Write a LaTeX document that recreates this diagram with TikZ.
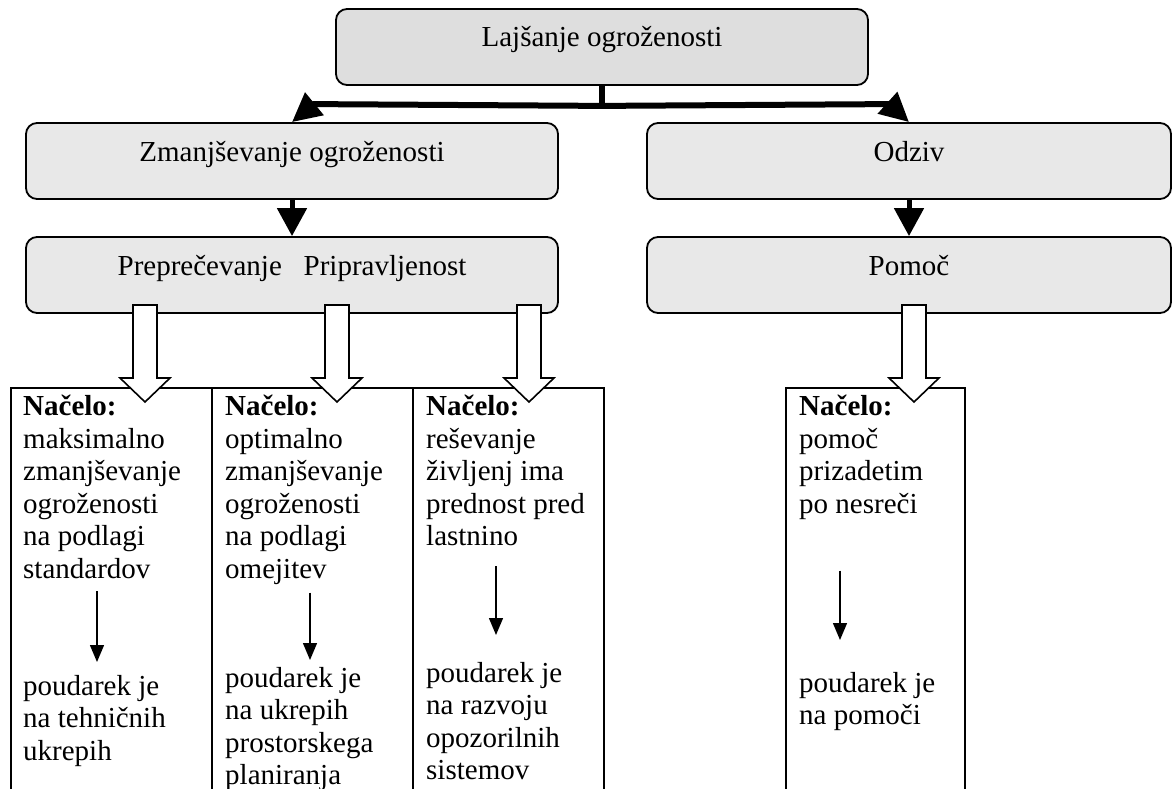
\documentclass[tikz,border=0pt]{standalone}
\usepackage{fontspec}
\setmainfont{Liberation Serif}
\usetikzlibrary{arrows.meta}
\definecolor{topgray}{HTML}{DEDEDE}
\definecolor{boxgray}{HTML}{E8E8E8}
\tikzset{
  box/.style={draw, line width=1.8pt, rounded corners=11pt, fill=boxgray,
    minimum width=532pt, minimum height=76pt, inner sep=0pt,
    text height=0pt, text depth=0pt},
  col/.style={draw, line width=1.8pt, anchor=north west,
    minimum height=430pt, inner sep=0pt},
  txt/.style={anchor=north west, align=flush left, text width=185pt, inner sep=0pt},
  bar/.style={line width=6pt},
  fat/.style={line width=6pt, -{Triangle[length=29pt,width=28pt]}},
  mid/.style={line width=5pt, -{Triangle[length=28pt,width=29pt]}},
  thin/.style={line width=1.4pt, -{Triangle[length=17pt,width=14pt]}},
  hollow/.style={draw, line width=1.6pt, fill=white}
}
\begin{document}
\begin{tikzpicture}[x=1pt, y=-1pt, font=\fontsize{29}{32.5}\selectfont]
\useasboundingbox (0,0) rectangle (1173,789);
\clip (0,0) rectangle (1173,789);

% upper boxes
\node[box, fill=topgray] (lajs) at (602,47) {Lajšanje ogroženosti};
\node[box] (zman) at (292,161) {Zmanjševanje ogroženosti};
\node[box, minimum width=524pt] (odziv) at (909,161) {Odziv};
\node[box] (prep) at (292,275) {Preprečevanje~~~Pripravljenost};
\node[box, minimum width=524pt] (pomoc) at (909,275) {Pomoč};

\draw[bar] (lajs.south) -- ++(0,20) coordinate (fork);
\draw[fat] (fork) -- ([xshift=22pt,yshift=18pt]zman.north) -- (zman.north);
\draw[fat] (fork) -- ([xshift=-20pt,yshift=18pt]odziv.north) -- (odziv.north);
\draw[mid] (zman.south) -- (prep.north);
\draw[mid] (odziv.south) -- (pomoc.north);

% columns
\node[col, minimum width=201pt] (c1) at (10,387) {};
\node[col, minimum width=201pt] (c2) at (211,387) {};
\node[col, minimum width=191pt] (c3) at (412,387) {};
\node[col, minimum width=179pt] (c4) at (785,387) {};

\node[txt] (p1) at (23,395) {\textbf{Načelo:}\\maksimalno\\zmanjševanje\\ogroženosti\\na podlagi\\standardov};
\node[txt] (u1) at (23,675) {poudarek je\\na tehničnih\\ukrepih};
\node[txt] (p2) at (225,395) {\textbf{Načelo:}\\optimalno\\zmanjševanje\\ogroženosti\\na podlagi\\omejitev};
\node[txt] (u2) at (225,667) {poudarek je\\na ukrepih\\prostorskega\\planiranja};
\node[txt] (p3) at (426,395) {\textbf{Načelo:}\\reševanje\\življenj ima\\prednost pred\\lastnino};
\node[txt] (u3) at (426,662) {poudarek je\\na razvoju\\opozorilnih\\sistemov};
\node[txt] (p4) at (799,395) {\textbf{Načelo:}\\pomoč\\prizadetim\\po nesreči};
\node[txt] (u4) at (799,672) {poudarek je\\na pomoči};

\draw[thin, shorten <=12.5pt, shorten >=13pt] ([xshift=74pt]p1.south west) -- ([xshift=74pt]u1.north west);
\draw[thin, shorten <=8pt, shorten >=7pt] ([xshift=85pt]p2.south west) -- ([xshift=85pt]u2.north west);
\draw[thin, shorten <=20pt, shorten >=27pt] ([xshift=70pt]p3.south west) -- ([xshift=70pt]u3.north west);
\draw[thin, shorten <=51pt, shorten >=32pt] ([xshift=41pt]p4.south west) -- ([xshift=41pt]u4.north west);

% hollow arrows
\coordinate (h1) at (145,305);
\coordinate (h2) at (337,305);
\coordinate (h3) at (529,305);
\coordinate (h4) at (914,305);
\draw[hollow] (h1) ++(-12,0) -- ++(0,73) -- ++(-13,0) -- ++(25,24) -- ++(25,-24) -- ++(-13,0) -- ++(0,-73) -- cycle;
\draw[hollow] (h2) ++(-12,0) -- ++(0,73) -- ++(-13,0) -- ++(25,24) -- ++(25,-24) -- ++(-13,0) -- ++(0,-73) -- cycle;
\draw[hollow] (h3) ++(-12,0) -- ++(0,73) -- ++(-13,0) -- ++(25,24) -- ++(25,-24) -- ++(-13,0) -- ++(0,-73) -- cycle;
\draw[hollow] (h4) ++(-12,0) -- ++(0,73) -- ++(-13,0) -- ++(25,24) -- ++(25,-24) -- ++(-13,0) -- ++(0,-73) -- cycle;
\end{tikzpicture}
\end{document}
